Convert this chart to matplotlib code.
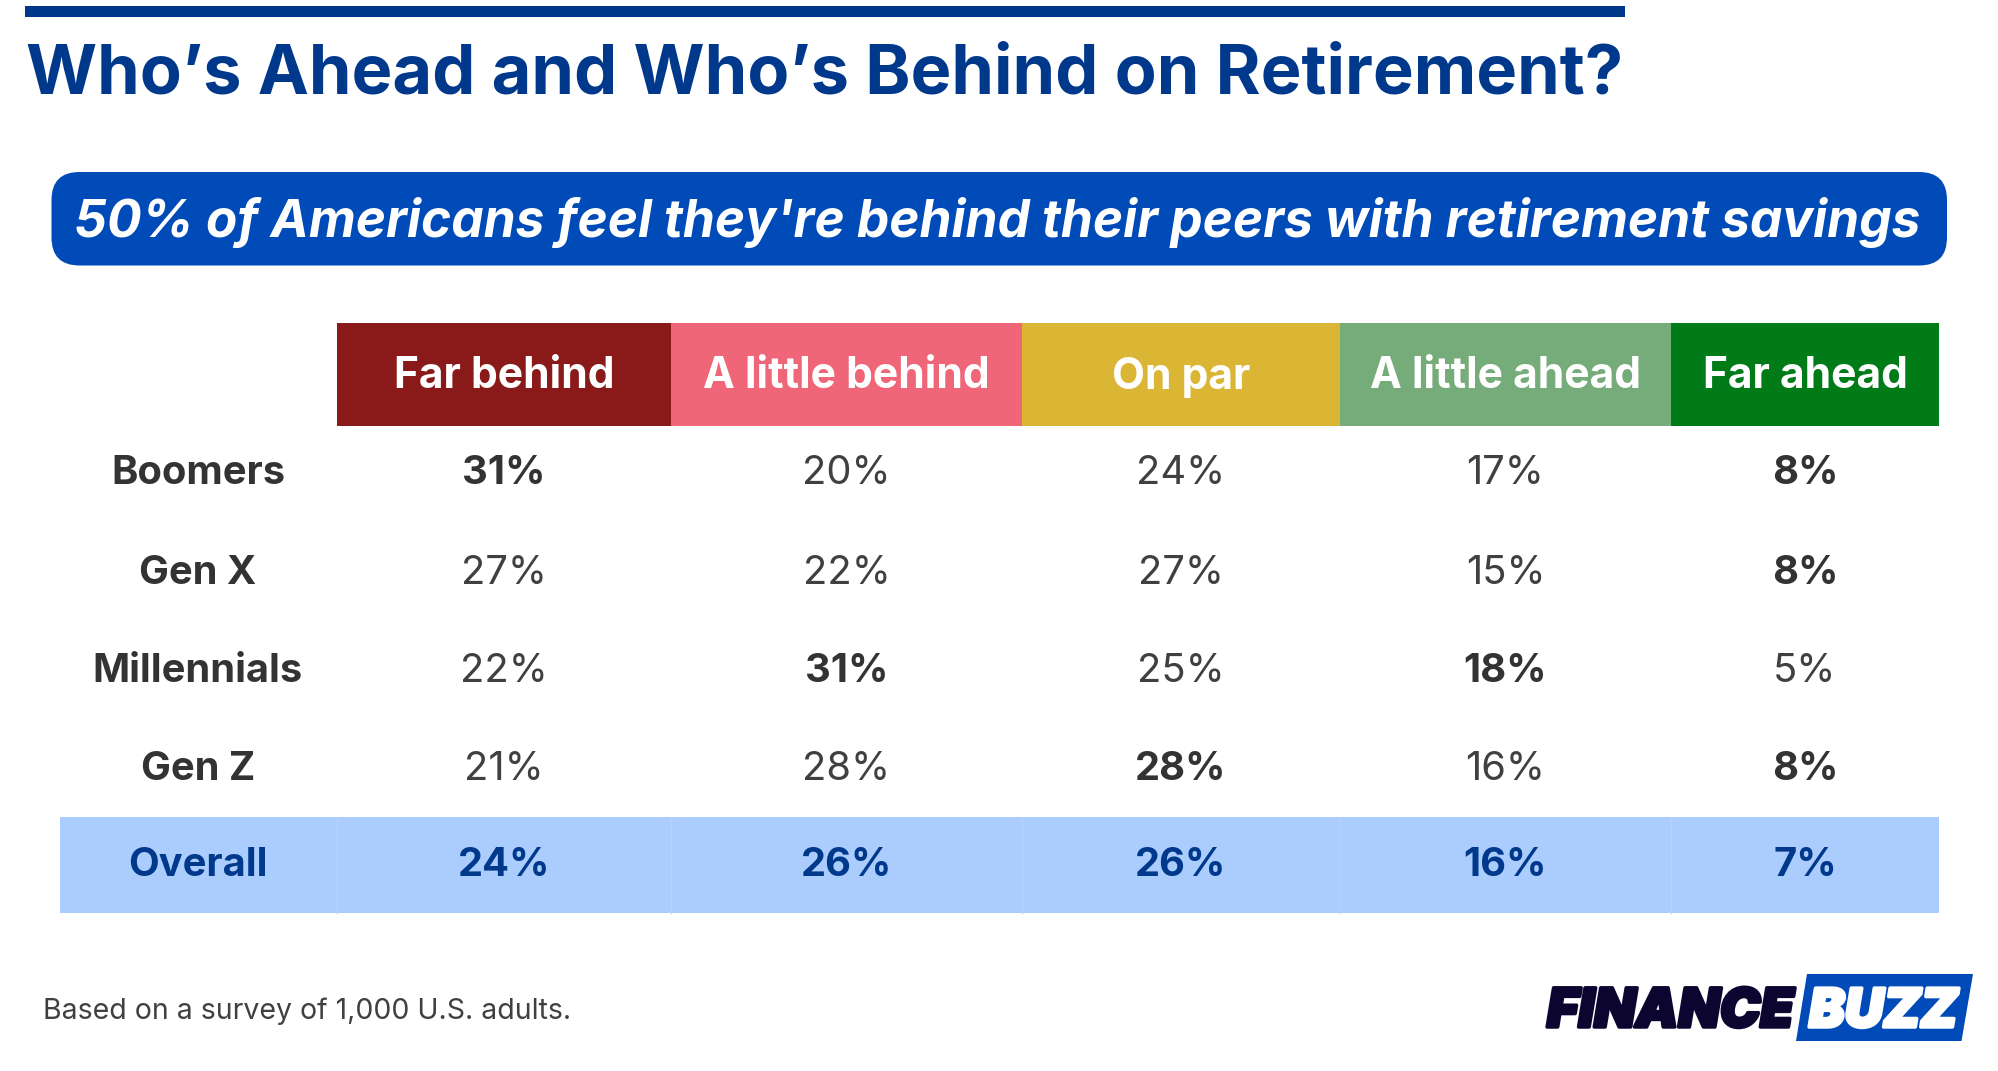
import matplotlib
matplotlib.use("Agg")
import matplotlib.pyplot as plt
from matplotlib.patches import Rectangle, FancyBboxPatch, Polygon
import matplotlib.patheffects as pe

plt.rcParams['font.family'] = ['Inter', 'Roboto', 'DejaVu Sans']

# ---------- data ----------
title = "Who’s Ahead and Who’s Behind on Retirement?"
subtitle = "50% of Americans feel they're behind their peers with retirement savings"
footnote = "Based on a survey of 1,000 U.S. adults."
columns = ["Far behind", "A little behind", "On par", "A little ahead", "Far ahead"]
generations = ["Boomers", "Gen X", "Millennials", "Gen Z"]
boomers = [31, 20, 24, 17, 8]
gen_x = [27, 22, 27, 15, 8]
millennials = [22, 31, 25, 18, 5]
gen_z = [21, 28, 28, 16, 8]
overall = [24, 26, 26, 16, 7]
overall_label = "Overall"
highlighted = [(0, 0), (0, 4), (1, 4), (2, 1), (2, 3), (3, 2), (3, 4)]
logo_left = "FINANCE"
logo_right = "BUZZ"

rows = [boomers, gen_x, millennials, gen_z]

# ---------- layout (pixels) ----------
W, H = 1999, 1071
col_edges = [337, 671, 1022, 1340, 1671, 1939]
header_top, header_bottom = 323, 425.5
row_y = [470, 569, 667, 765]
band_top, band_bottom = 817, 913
band_left = 60
overall_y = 861.5
label_x = 198

NAVY = "#00388B"
BLUE = "#004BB8"
BAND = "#ABCDFE"
DARK = "#333333"
GREY = "#404040"
col_colors = ["#8A1A1A", "#EE6677", "#DBB635", "#76AC7A", "#017A18"]

fig = plt.figure(figsize=(W / 100, H / 100), dpi=100, facecolor="white")
ax = fig.add_axes([0, 0, 1, 1])
ax.set_xlim(0, W)
ax.set_ylim(H, 0)
ax.axis("off")

# top rule and title
ax.add_patch(Rectangle((25.5, 5.5), 1600, 11.5, fc=NAVY, ec="none"))
ax.text(26, 94, title, fontsize=49.35, fontweight="bold", color=NAVY, ha="left", va="baseline")

# pill
ax.add_patch(FancyBboxPatch((51.5 + 28, 172 + 28), 1895.5 - 56, 93.5 - 56,
                            boxstyle="round,pad=28,rounding_size=28", fc=BLUE, ec="none"))
ax.text(74, 237, subtitle, fontsize=37.0, fontweight="bold", fontstyle="italic",
        color="white", ha="left", va="baseline")

centers = [(a + b) / 2 for a, b in zip(col_edges[:-1], col_edges[1:])]

# header
for i, name in enumerate(columns):
    ax.add_patch(Rectangle((col_edges[i], header_top), col_edges[i + 1] - col_edges[i],
                           header_bottom - header_top, fc=col_colors[i], ec="none"))
    ax.text(centers[i], 388.5, name, fontsize=30.7, fontweight="bold", color="white",
            ha="center", va="baseline")

# body
for r, (gen, vals) in enumerate(zip(generations, rows)):
    ax.text(label_x, row_y[r], gen, fontsize=28.7, fontweight="bold", color=DARK,
            ha="center", va="center_baseline")
    for c, v in enumerate(vals):
        strong = (r, c) in highlighted
        ax.text(centers[c], row_y[r], f"{v}%", fontsize=28.7,
                fontweight="bold" if strong else "normal",
                color=DARK if strong else GREY, ha="center", va="center_baseline")

# overall band
ax.add_patch(Rectangle((band_left, band_top), col_edges[-1] - band_left,
                       band_bottom - band_top, fc=BAND, ec="none"))
for e in col_edges[:-1]:
    ax.plot([e, e], [band_top, band_bottom], color="#B4D2FE", lw=1)
ax.text(label_x, overall_y, overall_label, fontsize=28.7, fontweight="bold", color=NAVY,
        ha="center", va="center_baseline")
for c, v in enumerate(overall):
    ax.text(centers[c], overall_y, f"{v}%", fontsize=28.7, fontweight="bold", color=NAVY,
            ha="center", va="center_baseline")

# footnote
ax.text(43, 1019, footnote, fontsize=20.5, color=GREY, ha="left", va="baseline")

# logo
ax.add_patch(Polygon([(1807, 974), (1973, 974), (1961.5, 1041), (1796, 1041)], fc=BLUE, ec="none"))
heavy = [pe.withStroke(linewidth=2.5, foreground="#0B0530")]
ax.text(1547, 1027, logo_left, fontsize=38.8, fontweight="black", fontstyle="italic",
        color="#0B0530", ha="left", va="baseline", path_effects=heavy)
ax.text(1809, 1027, logo_right, fontsize=38.5, fontweight="black", fontstyle="italic",
        color="white", ha="left", va="baseline",
        path_effects=[pe.withStroke(linewidth=2.5, foreground="white")])

fig.savefig("out.png", dpi=100, facecolor="white")
